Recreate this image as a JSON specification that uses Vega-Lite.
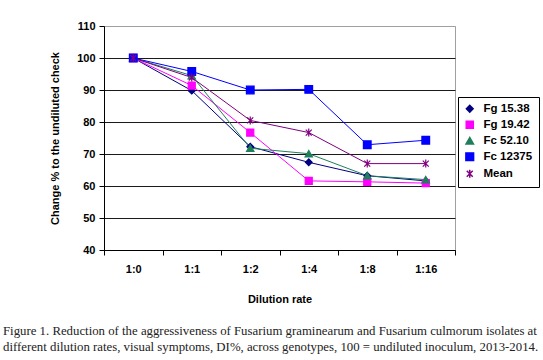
{
  "$schema": "https://vega.github.io/schema/vega-lite/v6.json",
  "width": 351,
  "height": 224,
  "autosize": {"type": "none"},
  "padding": {"left": 104, "top": 26, "right": 88, "bottom": 110},
  "background": "white",
  "title": {
    "text": ["Figure 1. Reduction of the aggressiveness of Fusarium graminearum and Fusarium culmorum isolates at", "different dilution rates, visual symptoms, DI%, across genotypes, 100 = undiluted inoculum, 2013-2014."],
    "orient": "bottom",
    "anchor": "start",
    "frame": "group",
    "dx": -101,
    "offset": 21,
    "font": "Liberation Serif",
    "fontSize": 12.8,
    "fontWeight": "normal",
    "color": "#222222",
    "lineHeight": 16
  },
  "config": {
    "view": {"stroke": "#a0a0a0", "strokeWidth": 1},
    "axis": {
      "labelFont": "Liberation Sans",
      "labelFontWeight": "bold",
      "labelFontSize": 11,
      "labelColor": "#000000",
      "titleFont": "Liberation Sans",
      "titleFontWeight": "bold",
      "titleFontSize": 11,
      "titleColor": "#000000",
      "domainColor": "#000000",
      "tickColor": "#000000",
      "tickSize": 5
    },
    "legend": {
      "labelFont": "Liberation Sans",
      "labelFontWeight": "bold",
      "labelFontSize": 11.5,
      "labelColor": "#000000"
    }
  },
  "data": {
    "values": [
      {"rate": "1:0", "series": "Fg 15.38", "value": 100},
      {"rate": "1:1", "series": "Fg 15.38", "value": 89.8},
      {"rate": "1:2", "series": "Fg 15.38", "value": 72.3},
      {"rate": "1:4", "series": "Fg 15.38", "value": 67.4},
      {"rate": "1:8", "series": "Fg 15.38", "value": 63.2},
      {"rate": "1:16", "series": "Fg 15.38", "value": 61.6},
      {"rate": "1:0", "series": "Fg 19.42", "value": 100},
      {"rate": "1:1", "series": "Fg 19.42", "value": 91.4},
      {"rate": "1:2", "series": "Fg 19.42", "value": 76.7},
      {"rate": "1:4", "series": "Fg 19.42", "value": 61.6},
      {"rate": "1:8", "series": "Fg 19.42", "value": 61.3},
      {"rate": "1:16", "series": "Fg 19.42", "value": 60.9},
      {"rate": "1:0", "series": "Fc 52.10", "value": 100},
      {"rate": "1:1", "series": "Fc 52.10", "value": 94.5},
      {"rate": "1:2", "series": "Fc 52.10", "value": 71.8},
      {"rate": "1:4", "series": "Fc 52.10", "value": 70.1},
      {"rate": "1:8", "series": "Fc 52.10", "value": 63.2},
      {"rate": "1:16", "series": "Fc 52.10", "value": 62.0},
      {"rate": "1:0", "series": "Fc 12375", "value": 100},
      {"rate": "1:1", "series": "Fc 12375", "value": 95.8},
      {"rate": "1:2", "series": "Fc 12375", "value": 90.0},
      {"rate": "1:4", "series": "Fc 12375", "value": 90.2},
      {"rate": "1:8", "series": "Fc 12375", "value": 72.9},
      {"rate": "1:16", "series": "Fc 12375", "value": 74.3},
      {"rate": "1:0", "series": "Mean", "value": 100},
      {"rate": "1:1", "series": "Mean", "value": 93.9},
      {"rate": "1:2", "series": "Mean", "value": 80.5},
      {"rate": "1:4", "series": "Mean", "value": 76.7},
      {"rate": "1:8", "series": "Mean", "value": 67.0},
      {"rate": "1:16", "series": "Mean", "value": 67.0}
    ]
  },
  "encoding": {
    "x": {
      "field": "rate",
      "type": "ordinal",
      "sort": ["1:0", "1:1", "1:2", "1:4", "1:8", "1:16"],
      "scale": {"type": "band", "paddingInner": 0, "paddingOuter": 0},
      "axis": {
        "title": "Dilution rate",
        "labelAngle": 0,
        "tickBand": "extent",
        "labelPadding": 8,
        "titlePadding": 19,
        "grid": false
      }
    },
    "y": {
      "field": "value",
      "type": "quantitative",
      "scale": {"domain": [40, 110], "nice": false, "zero": false},
      "axis": {
        "title": "Change % to the undiluted check",
        "values": [40, 50, 60, 70, 80, 90, 100, 110],
        "grid": true,
        "gridColor": {"condition": {"test": "datum.value == 110", "value": "#a0a0a0"}, "value": "#1a1a1a"},
        "gridWidth": 1,
        "labelPadding": 4,
        "titlePadding": 16
      }
    }
  },
  "layer": [
    {
      "mark": {"type": "line", "strokeWidth": 1},
      "encoding": {
        "stroke": {
          "field": "series",
          "type": "nominal",
          "scale": {
            "domain": ["Fg 15.38", "Fg 19.42", "Fc 52.10", "Fc 12375", "Mean"],
            "range": ["#000080", "#ff00ff", "#1f7f5a", "#0000ff", "#800080"]
          },
          "legend": {
            "title": null,
            "orient": "none",
            "legendX": 354,
            "legendY": 71,
            "strokeColor": "#000000",
            "padding": 6,
            "rowPadding": 2,
            "labelOffset": 8
          }
        }
      }
    },
    {
      "mark": {"type": "point", "filled": true, "opacity": 1, "strokeWidth": 1.2},
      "encoding": {
        "fill": {
          "field": "series",
          "type": "nominal",
          "scale": {
            "domain": ["Fg 15.38", "Fg 19.42", "Fc 52.10", "Fc 12375", "Mean"],
            "range": ["#000080", "#ff00ff", "#1f7f5a", "#0000ff", "#800080"]
          },
          "legend": {
            "title": null,
            "orient": "none",
            "legendX": 354,
            "legendY": 71,
            "strokeColor": "#000000",
            "padding": 6,
            "rowPadding": 2,
            "labelOffset": 8
          }
        },
        "stroke": {"field": "series", "type": "nominal"},
        "shape": {
          "field": "series",
          "type": "nominal",
          "scale": {
            "domain": ["Fg 15.38", "Fg 19.42", "Fc 52.10", "Fc 12375", "Mean"],
            "range": ["diamond", "square", "triangle-up", "square", "M0,-1L0,1M-0.75,-0.75L0.75,0.75M-0.75,0.75L0.75,-0.75"]
          },
          "legend": {
            "title": null,
            "orient": "none",
            "legendX": 354,
            "legendY": 71,
            "strokeColor": "#000000",
            "padding": 6,
            "rowPadding": 2,
            "labelOffset": 8
          }
        },
        "size": {
          "field": "series",
          "type": "nominal",
          "scale": {
            "domain": ["Fg 15.38", "Fg 19.42", "Fc 52.10", "Fc 12375", "Mean"],
            "range": [45, 64, 70, 130, 90]
          },
          "legend": null
        }
      }
    }
  ]
}
